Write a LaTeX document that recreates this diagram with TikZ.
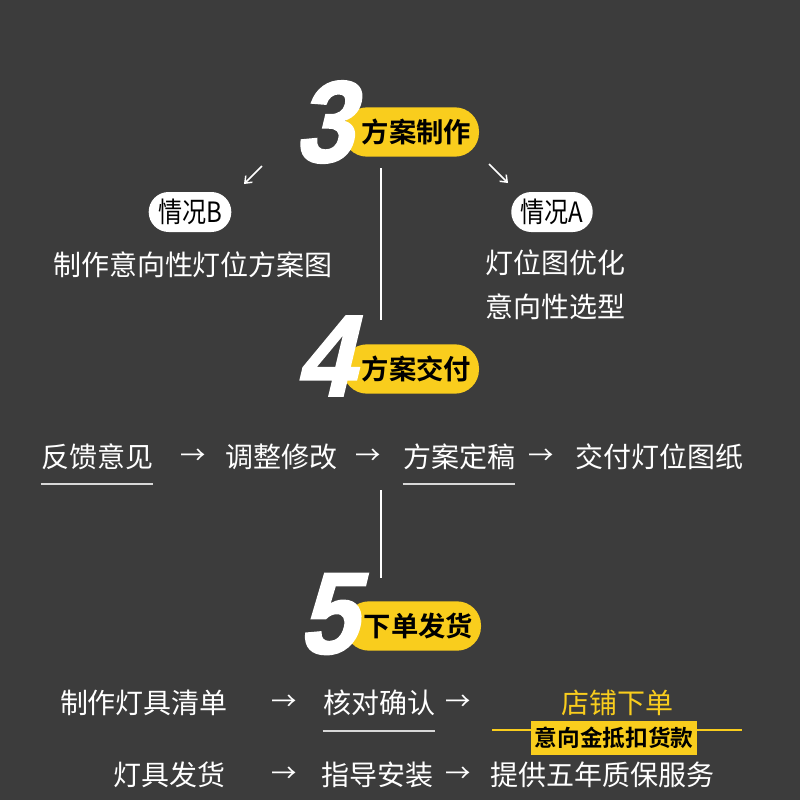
\documentclass[tikz,border=0pt]{standalone}
\usepackage{fontspec}
\usepackage{tikz}
\usetikzlibrary{positioning,arrows.meta}
\newfontfamily\cjk{Noto Sans CJK SC}
\newfontfamily\cjkn[FakeStretch=0.86]{Noto Sans CJK SC}
\newfontfamily\cjkb{Noto Sans CJK SC Bold}
\newfontfamily\bignum[FakeSlant=0.24,FakeStretch=0.9,FakeBold=1.6]{Liberation Sans Bold}
\definecolor{bgcol}{HTML}{3C3C3C}
\definecolor{sunyellow}{HTML}{F9CD1D}
\definecolor{linegray}{HTML}{D8D8D8}
\tikzset{
  bignum/.style={text=white, inner sep=0pt, font=\bignum\fontsize{87}{87}\selectfont},
  banner/.style={fill=sunyellow, rounded corners=18pt, minimum width=102pt, minimum height=37pt,
                 inner sep=0pt, text=black, font=\cjkb\fontsize{20.5}{20.5}\selectfont},
  casetag/.style={fill=white, rounded corners=15pt, minimum height=30pt, inner xsep=7pt, inner ysep=0pt,
                  text=black, font=\cjkn\fontsize{21}{21}\selectfont},
  wtext/.style={text=white, inner sep=0pt, font=\cjk\fontsize{21}{21}\selectfont},
  arr/.style={text=white, inner sep=0pt, font=\cjk\fontsize{19}{19}\selectfont},
  uline/.style={draw=linegray, line width=1.5pt},
  vline/.style={draw=white, line width=0.8pt},
  tick/.style={draw=white, line width=1.1pt, -{Straight Barb[length=4.5pt,width=7pt]}}
}
\begin{document}
\begin{tikzpicture}[x=0.75pt,y=-0.75pt]
\fill[bgcol] (0,0) rectangle (800,800);
\useasboundingbox (0,0) rectangle (800,800);

% step 3
\node[banner] (b3) at (411,132) {\hspace*{8pt}方案制作};
\node[bignum] (n3) at (323,122) {3};
\coordinate (l3top) at (381,168);
\coordinate (l3bot) at (381,320);
\draw[vline] (l3top) -- (l3bot);
\coordinate (tb1) at (262,166);
\coordinate (tb2) at (244,184);
\coordinate (ta1) at (489,164);
\coordinate (ta2) at (508,183);
\draw[tick] (tb1) -- (tb2);
\draw[tick] (ta1) -- (ta2);
\node[casetag] (caseB) at (190,212) {情况B};
\node[casetag] (caseA) at (552,212) {情况A};
\node[wtext] (planB) at (193,265) {制作意向性灯位方案图};
\node[wtext] (optA) at (555,263) {灯位图优化};
\node[wtext] (selA) at (555,307) {意向性选型};

% step 4
\node[banner] (b4) at (411,369) {\hspace*{8pt}方案交付};
\node[bignum] (n4) at (324,356) {4};
\node[wtext] (fb) at (97,457) {反馈意见};
\node[arr] (r1) at (193,457) {→};
\node[wtext] (tz) at (281,457) {调整修改};
\node[arr] (r2) at (368,457) {→};
\node[wtext] (dg) at (459,457) {方案定稿};
\node[arr] (r3) at (541,457) {→};
\node[wtext] (jf) at (659,457) {交付灯位图纸};
\coordinate (u4) at (0,484);
\draw[uline] (fb.west |- u4) -- (fb.east |- u4);
\draw[uline] (dg.west |- u4) -- (dg.east |- u4);
\coordinate (l4top) at (381,490);
\coordinate (l4bot) at (381,578);
\draw[vline] (l4top) -- (l4bot);

% step 5
\node[banner] (b5) at (413,626) {\hspace*{8pt}下单发货};
\node[bignum] (n5) at (327,614) {5};
\node[wtext] (qd) at (144,703) {制作灯具清单};
\node[arr] (r4) at (284,703) {→};
\node[wtext] (hd) at (379,703) {核对确认};
\node[arr] (r5) at (458,703) {→};
\node[wtext, text=sunyellow] (dp) at (617,703) {店铺下单};
\coordinate (u5) at (0,731);
\draw[uline] (hd.west |- u5) -- (hd.east |- u5);
\coordinate (dl) at (492,730);
\coordinate (dr) at (742,730);
\draw[draw=sunyellow, line width=1.5pt] (dl) -- (dr);
\node[fill=sunyellow, minimum width=125pt, minimum height=26pt, inner sep=0pt,
      text=black, font=\cjkb\fontsize{17}{17}\selectfont] (dk) at (614,738) {意向金抵扣货款};
\node[wtext] (fh) at (169,775) {灯具发货};
\node[arr] (r6) at (284,775) {→};
\node[wtext] (az) at (377,775) {指导安装};
\node[arr] (r7) at (458,775) {→};
\node[wtext] (zb) at (602,775) {提供五年质保服务};
\end{tikzpicture}
\end{document}
